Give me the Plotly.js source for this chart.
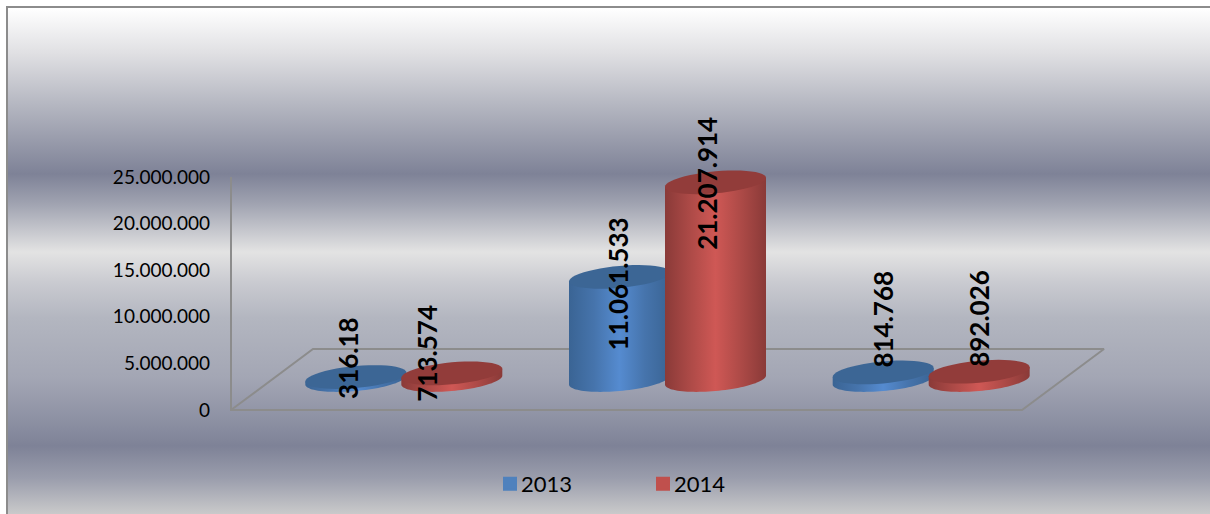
<!DOCTYPE html>
<html><head><meta charset="utf-8">
<script src="https://cdn.plot.ly/plotly-3.0.1.min.js"></script>
<style>
html,body{margin:0;padding:0;background:#fff;overflow:hidden;width:1210px;height:514px}
#frame{position:absolute;left:6px;top:6px;width:1204px;height:508px;box-sizing:border-box;border-left:2px solid #8c8c8c;border-top:2px solid #8c8c8c;
background:linear-gradient(180deg,#ffffff 0px,#e0e0e3 45px,#b6b8c2 95px,#7e8297 166px,#9fa2b0 195px,#e3e3e3 244px,#c9cad0 275px,#b3b6c0 310px,#a3a6b4 370px,#8e92a4 410px,#7e8297 438px,#9a9dac 470px,#cccccc 508px)}
#chart{position:absolute;left:0;top:0;width:1210px;height:514px}
</style></head><body>
<div id="frame"></div><div id="chart"></div>
<script>
const categories = ['Grup 1', 'Grup 2', 'Grup 3'];
const seriesNames = ['2013', '2014'];
const values2013 = [316180, 11061533, 814768];
const values2014 = [713574, 21207914, 892026];
const labels2013 = ['316.18', '11.061.533', '814.768'];
const labels2014 = ['713.574', '21.207.914', '892.026'];

// label placement, as pixel offsets from the top centre of each cylinder
const labelShift2013 = [[-8, -19], [-2, 7], [0, -53]];
const labelShift2014 = [[-25, -20.5], [-8, 1], [0, -53]];

const W = 1210, H = 514, L = 231, T = 177, AXH = 233, HEAD = 20, PAD = 4;
const CAT_PX = 263.67, DEPTH_X = 82, DEPTH_Y = 61;
const YMAX = 25000000;
const dx = p => p / CAT_PX;
const dy = p => p * YMAX / AXH;

const R = 50.5, TILT = 4.5, MINOR = 11;
const STEPS = 48;
const sidePalette = {
  '2013': ['#3a6494', '#4674ac', '#558bd0', '#4674ac', '#3a6494'],
  '2014': ['#8a3a38', '#ad4a47', '#cf5855', '#ad4a47', '#8a3a38']
};
const topColor = {'2013': '#3c6695', '2014': '#923c3a'};

function ring(cx, cy, from, to) {
  const xs = [], ys = [];
  for (let i = 0; i <= STEPS; i++) {
    const t = from + (to - from) * i / STEPS;
    xs.push(cx + dx(R * Math.cos(t)));
    ys.push(cy + dy(TILT * Math.cos(t) - MINOR * Math.sin(t)));
  }
  return [xs, ys];
}

function cylinder(name, catIndex, sign, value) {
  const cx = catIndex + 0.5 + dx(DEPTH_X / 2) + sign * dx(48);
  const base = dy(DEPTH_Y / 2 - 0.5);
  const top = base + value;
  const [bx, by] = ring(cx, base, 0, Math.PI);
  const [tx, ty] = ring(cx, top, 0, 2 * Math.PI);
  const pal = sidePalette[name];
  const side = {
    type: 'scatter', mode: 'none', cliponaxis: false, showlegend: false, hoverinfo: 'skip',
    x: [tx[0], ...bx, tx[STEPS / 2], tx[0]],
    y: [ty[0], ...by, ty[STEPS / 2], ty[0]],
    fill: 'toself',
    fillgradient: {
      type: 'horizontal', start: cx - dx(R), stop: cx + dx(R),
      colorscale: pal.map((c, i) => [i / (pal.length - 1), c])
    }
  };
  const cap = {
    type: 'scatter', mode: 'none', cliponaxis: false, showlegend: false, hoverinfo: 'skip',
    x: tx, y: ty, fill: 'toself', fillcolor: topColor[name]
  };
  return {traces: [side, cap], cx, top};
}

const traces = [];
// floor outline and value axis line
traces.push({
  type: 'scatter', mode: 'lines', cliponaxis: false, showlegend: false, hoverinfo: 'skip',
  x: [0, 0, categories.length, categories.length + dx(DEPTH_X), dx(DEPTH_X), 0],
  y: [YMAX, 0, 0, dy(DEPTH_Y), dy(DEPTH_Y), 0],
  line: {color: '#8c8c8c', width: 2}
});

const annotations = [];
function addLabel(c, text, shift) {
  annotations.push({
    x: c.cx + dx(shift[0]), y: c.top - dy(shift[1]), xref: 'x', yref: 'y',
    text: text, textangle: -90, showarrow: false, xanchor: 'center', yanchor: 'middle',
    font: {family: 'Lato, sans-serif', size: 26, color: '#000', weight: 700}
  });
}
categories.forEach((_, i) => {
  const a = cylinder(seriesNames[0], i, -1, values2013[i]);
  const b = cylinder(seriesNames[1], i, 1, values2014[i]);
  traces.push(...a.traces, ...b.traces);
  addLabel(a, labels2013[i], labelShift2013[i]);
  addLabel(b, labels2014[i], labelShift2014[i]);
});
// legend keys
traces.push({type: 'bar', name: seriesNames[0], x: [null], y: [null], marker: {color: '#4f81bd', line: {color: '#4f81bd', width: 2}}});
traces.push({type: 'bar', name: seriesNames[1], x: [null], y: [null], marker: {color: '#c0504d', line: {color: '#c0504d', width: 2}}});

const layout = {
  width: W, height: H,
  paper_bgcolor: 'rgba(0,0,0,0)', plot_bgcolor: 'rgba(0,0,0,0)',
  margin: {l: L - PAD, r: W - (L + CAT_PX * categories.length + DEPTH_X) - PAD, t: T - HEAD, b: H - T - AXH - PAD, pad: 0},
  separators: ',.',
  font: {family: 'Lato, sans-serif', color: '#000'},
  xaxis: {visible: false, range: [-dx(PAD), categories.length + dx(DEPTH_X + PAD)], fixedrange: true},
  yaxis: {
    range: [-dy(PAD), YMAX + dy(HEAD)], tickvals: [0, 5000000, 10000000, 15000000, 20000000, 25000000],
    tickformat: ',d', showgrid: false, zeroline: false,
    showline: false, ticks: '', ticklabelstandoff: 16,
    tickfont: {family: 'Lato, sans-serif', size: 19, color: '#000'}, fixedrange: true
  },
  showlegend: true,
  legend: {
    orientation: 'h', xref: 'container', yref: 'container', x: 481 / W, y: (H - 463) / H, xanchor: 'left', yanchor: 'top',
    font: {family: 'Lato, sans-serif', size: 22, color: '#000'},
    bgcolor: 'rgba(0,0,0,0)', entrywidth: 108, entrywidthmode: 'pixels'
  },
  annotations: annotations
};
Plotly.newPlot('chart', traces, layout, {displayModeBar: false, staticPlot: true}).then(() => {
  document.querySelectorAll('.legend .legendsymbols').forEach(el => el.setAttribute('transform', 'translate(9,0)'));
});
</script>
</body></html>
